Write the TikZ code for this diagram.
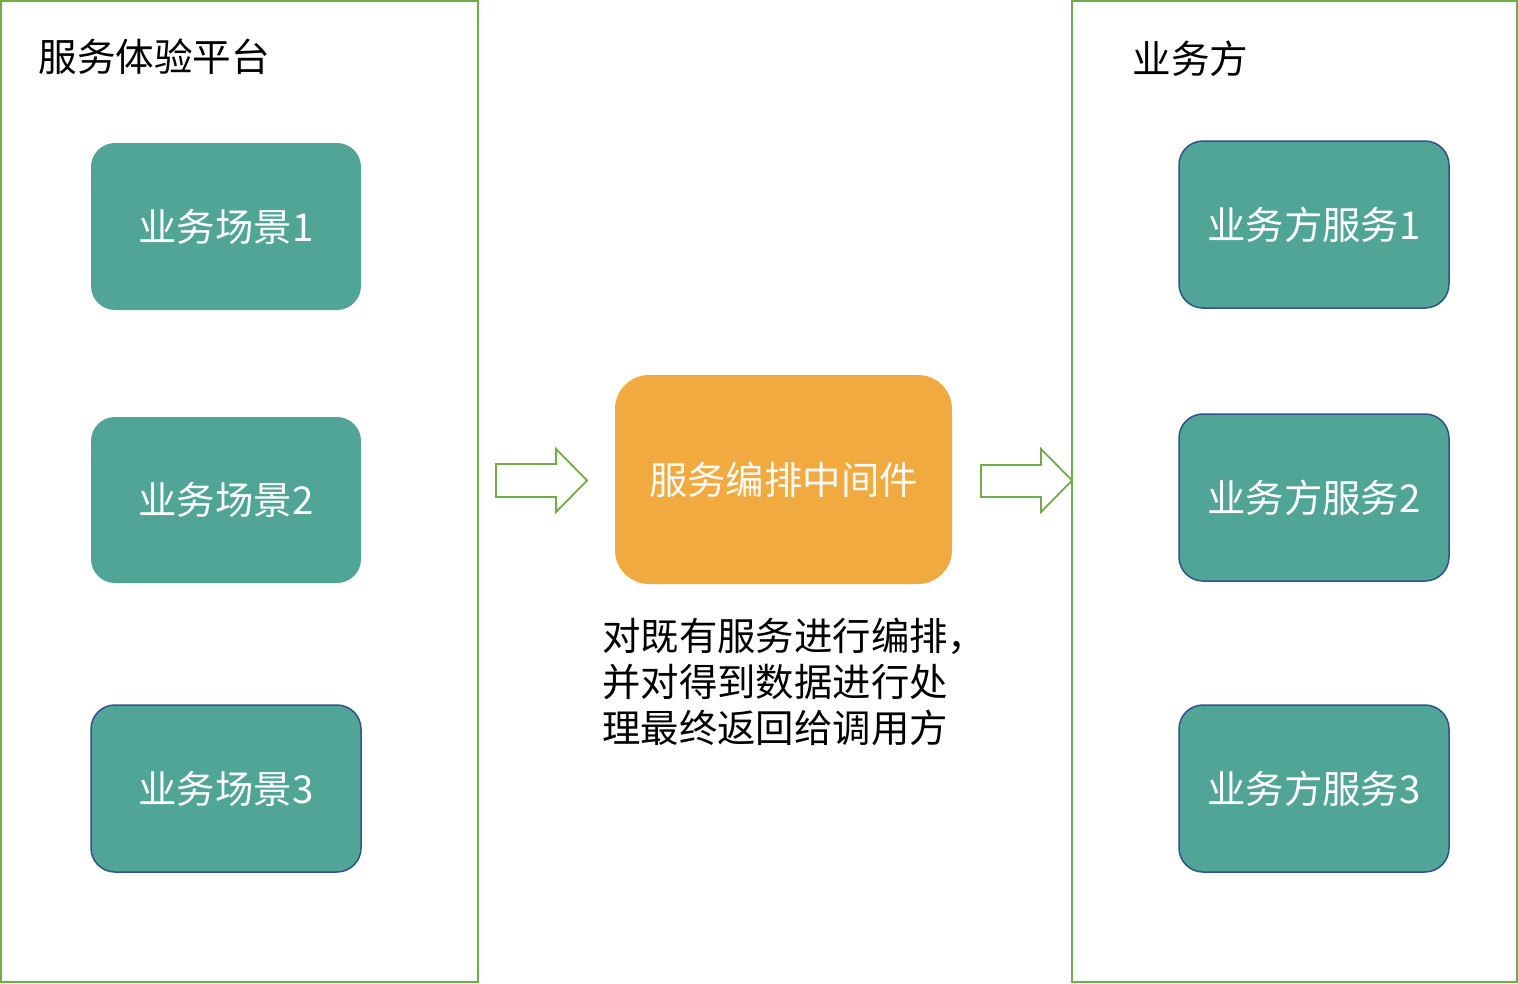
\documentclass[tikz,border=0pt]{standalone}
\usepackage{fontspec}
\setmainfont{Noto Sans CJK SC}
\definecolor{frameGreen}{HTML}{70AD47}
\definecolor{teal}{HTML}{50A597}
\definecolor{darkBlue}{HTML}{2F528F}
\definecolor{orangeFill}{HTML}{F0AA40}
\begin{document}
\begin{tikzpicture}[x=1pt,y=-1pt,
  frame/.style={draw=frameGreen,line width=2pt},
  scene/.style={fill=teal,rounded corners=24pt,line width=1.5pt},
  lbl/.style={text=white,font=\fontsize{38.4}{42}\selectfont},
  blockarrow/.style={draw=frameGreen,line width=1.8pt,fill=white,line join=miter},
  title/.style={font=\fontsize{38.6}{42}\selectfont,anchor=west}]
\useasboundingbox (0,0) rectangle (1518,983);
% frames
\draw[frame] (1,1) rectangle (478,982);
\draw[frame] (1072,1) rectangle (1517,982);
\node[title] (t1) at (35,57) {服务体验平台};
\node[title] (t2) at (1129,59) {业务方};
% left boxes
\fill[scene] (91,143) rectangle (361,310);
\node[lbl] (s1) at (226,227) {业务场景1};
\fill[scene] (91,417) rectangle (361,583);
\node[lbl] (s2) at (226,500) {业务场景2};
\draw[scene,draw=darkBlue] (91,705) rectangle (361,872);
\node[lbl] (s3) at (226,789) {业务场景3};
% right boxes
\draw[scene,draw=darkBlue] (1179,141) rectangle (1449,308);
\node[lbl] (r1) at (1314,225) {业务方服务1};
\draw[scene,draw=darkBlue] (1179,414) rectangle (1449,581);
\node[lbl] (r2) at (1314,498) {业务方服务2};
\draw[scene,draw=darkBlue] (1179,705) rectangle (1449,872);
\node[lbl] (r3) at (1314,789) {业务方服务3};
% middle
\fill[orangeFill,rounded corners=34pt] (615,375) rectangle (952,584);
\node[lbl,text=white!95!orangeFill] (m) at (783.5,480) {服务编排中间件};
\node[anchor=north west,align=left,inner sep=0pt,font=\fontsize{38.4}{46}\selectfont] (d) at (602,618)
  {对既有服务进行编排，\\并对得到数据进行处\\理最终返回给调用方};
% block arrows
\draw[blockarrow] (496,464) -- (556,464) -- (556,449) -- (587,480.5) -- (556,512) -- (556,497) -- (496,497) -- cycle;
\draw[blockarrow] (981,465) -- (1041,465) -- (1041,449) -- (1072,480.5) -- (1041,512) -- (1041,497) -- (981,497) -- cycle;
\end{tikzpicture}
\end{document}
